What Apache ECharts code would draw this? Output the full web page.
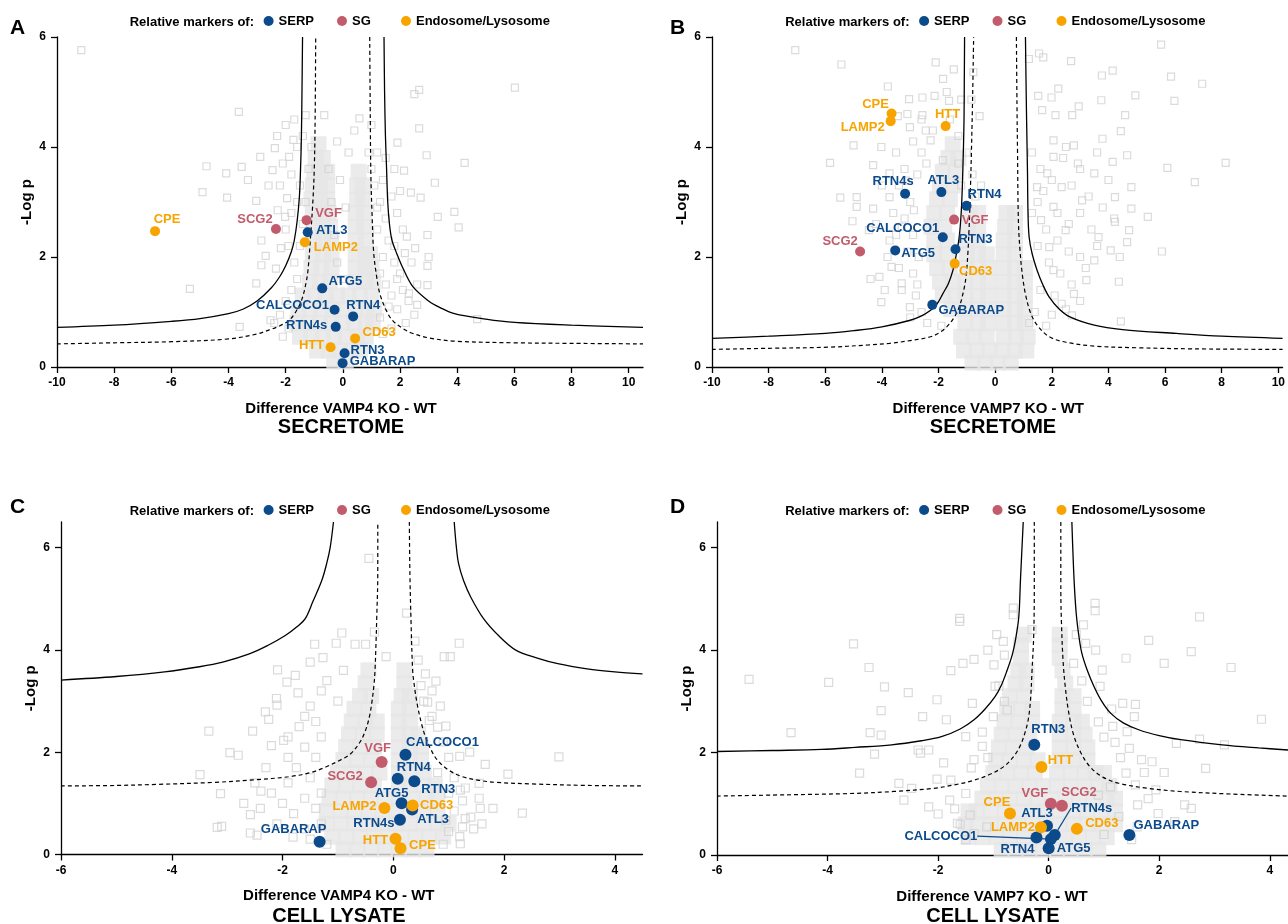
<!DOCTYPE html>
<html><head><meta charset="utf-8">
<script src="https://cdn.jsdelivr.net/npm/echarts@6.0.0/dist/echarts.min.js"></script>
<style>html,body{margin:0;padding:0;background:#fff}#c{width:1288px;height:924px}</style>
</head><body><div id="c"></div>
<script>
// ---------------- DATA ----------------
const groups = ['SERP', 'SG', 'Endosome/Lysosome'];
const xTicksAB = [-10, -8, -6, -4, -2, 0, 2, 4, 6, 8, 10];
const xTicksCD = [-6, -4, -2, 0, 2, 4];
const yTicks = [0, 2, 4, 6];

// markers: [name, group, difference, -log p]
const markersA = [
  ['CPE','Endosome/Lysosome',-6.57,2.47],['SCG2','SG',-2.34,2.51],['VGF','SG',-1.27,2.67],
  ['ATL3','SERP',-1.23,2.45],['LAMP2','Endosome/Lysosome',-1.33,2.27],['ATG5','SERP',-0.72,1.43],
  ['CALCOCO1','SERP',-0.29,1.04],['RTN4','SERP',0.36,0.92],['RTN4s','SERP',-0.25,0.73],
  ['CD63','Endosome/Lysosome',0.43,0.52],['HTT','Endosome/Lysosome',-0.43,0.36],
  ['RTN3','SERP',0.06,0.25],['GABARAP','SERP',-0.01,0.07]];
const markersB = [
  ['CPE','Endosome/Lysosome',-3.66,4.61],['LAMP2','Endosome/Lysosome',-3.69,4.47],['HTT','Endosome/Lysosome',-1.75,4.38],
  ['RTN4s','SERP',-3.18,3.15],['ATL3','SERP',-1.90,3.18],['RTN4','SERP',-1.01,2.93],['VGF','SG',-1.45,2.68],
  ['CALCOCO1','SERP',-1.85,2.36],['RTN3','SERP',-1.40,2.14],['ATG5','SERP',-3.53,2.12],['SCG2','SG',-4.77,2.10],
  ['CD63','Endosome/Lysosome',-1.43,1.88],['GABARAP','SERP',-2.22,1.13]];
const markersC = [
  ['VGF','SG',-0.21,1.81],['CALCOCO1','SERP',0.22,1.95],['RTN4','SERP',0.08,1.48],['RTN3','SERP',0.38,1.43],
  ['SCG2','SG',-0.40,1.41],['ATG5','SERP',0.15,1.00],['ATL3','SERP',0.34,0.88],['CD63','Endosome/Lysosome',0.35,0.96],
  ['LAMP2','Endosome/Lysosome',-0.16,0.91],['RTN4s','SERP',0.12,0.68],['GABARAP','SERP',-1.33,0.25],
  ['HTT','Endosome/Lysosome',0.04,0.31],['CPE','Endosome/Lysosome',0.13,0.12]];
const markersD = [
  ['RTN3','SERP',-0.26,2.15],['HTT','Endosome/Lysosome',-0.13,1.72],['VGF','SG',0.04,1.00],['SCG2','SG',0.24,0.96],
  ['CPE','Endosome/Lysosome',-0.70,0.81],['ATL3','SERP',-0.03,0.57],['LAMP2','Endosome/Lysosome',-0.14,0.54],
  ['CD63','Endosome/Lysosome',0.51,0.51],['GABARAP','SERP',1.46,0.39],['RTN4s','SERP',0.11,0.39],
  ['CALCOCO1','SERP',0.04,0.31],['RTN4','SERP',-0.22,0.34],['ATG5','SERP',0.00,0.13]];

// significance curves
const solidA_L = [[-10,0.72],[-8,0.76],[-6,0.83],[-5,0.88],[-4,0.97],[-3.5,1.05],[-3,1.2],[-2.5,1.44],[-2.2,1.65],[-2,1.84],[-1.8,2.1],[-1.7,2.3],[-1.6,2.65],[-1.52,3.1],[-1.48,3.6],[-1.45,4.2],[-1.43,5],[-1.41,6]];
const solidA_R = [[1.44,6],[1.46,5],[1.49,4.2],[1.53,3.6],[1.57,3.0],[1.63,2.6],[1.72,2.3],[1.88,2.07],[2.1,1.8],[2.45,1.46],[3.0,1.2],[3.4,1.08],[3.9,0.97],[5,0.87],[6,0.81],[8,0.76],[10.5,0.72]];
const dashA_L = [[-10,0.42],[-8,0.44],[-6,0.46],[-4,0.51],[-3,0.6],[-2.6,0.67],[-2.2,0.75],[-1.88,0.85],[-1.65,1.0],[-1.44,1.22],[-1.3,1.5],[-1.22,1.76],[-1.13,2.37],[-1.05,3.0],[-1.0,3.6],[-0.97,4.5],[-0.95,6]];
const dashA_R = [[0.94,6],[0.96,4.5],[0.98,3.5],[1.02,2.8],[1.08,2.07],[1.18,1.65],[1.29,1.34],[1.5,1.05],[1.73,0.85],[2.1,0.7],[2.45,0.61],[3,0.53],[3.9,0.47],[6,0.44],[8,0.43],[10.5,0.42]];
const solidB_L = [[-10,0.52],[-8,0.56],[-6,0.61],[-5,0.66],[-4,0.73],[-3,0.85],[-2.6,0.93],[-2.28,1.03],[-2.05,1.15],[-1.85,1.33],[-1.65,1.52],[-1.49,1.76],[-1.37,2.05],[-1.27,2.36],[-1.2,2.8],[-1.16,3.27],[-1.12,4],[-1.1,4.5],[-1.09,5.2],[-1.08,6]];
const solidB_R = [[1.07,6],[1.09,5.2],[1.11,4.5],[1.14,3.6],[1.16,2.8],[1.2,2.36],[1.31,2.05],[1.48,1.76],[1.68,1.5],[1.91,1.27],[2.25,1.06],[2.64,0.91],[3.5,0.76],[4.5,0.68],[6.4,0.61],[8,0.56],[10.15,0.52]];
const dashB_L = [[-10,0.32],[-8,0.34],[-5.9,0.36],[-4.5,0.4],[-3.73,0.43],[-3,0.48],[-2.28,0.55],[-1.95,0.63],[-1.71,0.73],[-1.45,0.9],[-1.27,1.09],[-1.13,1.35],[-1.03,1.64],[-0.96,2.1],[-0.91,2.67],[-0.87,3.3],[-0.84,3.88],[-0.8,4.8],[-0.76,6]];
const dashB_R = [[0.75,6],[0.77,4.8],[0.79,3.9],[0.82,2.67],[0.88,2.1],[0.97,1.64],[1.08,1.3],[1.26,0.97],[1.5,0.75],[1.91,0.55],[2.5,0.45],[3.5,0.38],[5,0.35],[7,0.33],[10.15,0.32]];
const solidC_L = [[-6,3.41],[-5,3.48],[-4.13,3.57],[-3.5,3.67],[-3.08,3.76],[-2.6,3.92],[-2.26,4.09],[-1.95,4.28],[-1.74,4.45],[-1.59,4.61],[-1.45,4.95],[-1.29,5.36],[-1.2,5.7],[-1.14,6.0],[-1.08,6.5]];
const solidC_R = [[1.10,6.5],[1.14,6.0],[1.18,5.68],[1.27,5.35],[1.40,5.03],[1.63,4.61],[1.9,4.28],[2.22,3.99],[2.6,3.84],[2.97,3.73],[3.5,3.63],[4.0,3.57],[4.5,3.53]];
const dashC_L = [[-6,1.34],[-5,1.35],[-4.28,1.37],[-3.23,1.41],[-2.5,1.46],[-1.89,1.52],[-1.5,1.6],[-1.22,1.71],[-0.95,1.85],[-0.77,1.97],[-0.6,2.2],[-0.5,2.43],[-0.43,2.7],[-0.39,2.95],[-0.35,3.3],[-0.33,3.6],[-0.31,4.2],[-0.3,4.58],[-0.28,5.5],[-0.28,6.5]];
const dashC_R = [[0.29,6.5],[0.3,5.5],[0.32,4.58],[0.35,3.6],[0.38,3.3],[0.43,2.95],[0.5,2.6],[0.58,2.3],[0.68,2.05],[0.8,1.84],[1.0,1.65],[1.25,1.52],[1.55,1.45],[1.85,1.41],[2.5,1.38],[3.5,1.35],[4.5,1.34]];
const solidD_L = [[-6,2.02],[-5,2.04],[-4.11,2.06],[-3.5,2.1],[-2.84,2.15],[-2.3,2.23],[-1.94,2.31],[-1.6,2.46],[-1.35,2.64],[-1.15,2.85],[-0.97,3.09],[-0.85,3.33],[-0.75,3.61],[-0.66,3.9],[-0.6,4.2],[-0.54,4.65],[-0.51,5.37],[-0.46,6.5]];
const solidD_R = [[0.42,6.5],[0.46,5.37],[0.5,4.7],[0.55,4.25],[0.6,3.94],[0.7,3.6],[0.82,3.29],[0.95,3.02],[1.12,2.77],[1.35,2.58],[1.64,2.44],[2.0,2.33],[2.39,2.25],[3.14,2.15],[3.8,2.09],[4.33,2.05]];
const dashD_L = [[-6,1.15],[-5,1.17],[-3.59,1.2],[-2.8,1.24],[-2.09,1.3],[-1.7,1.37],[-1.35,1.46],[-1.05,1.58],[-0.82,1.72],[-0.65,1.9],[-0.52,2.12],[-0.43,2.38],[-0.37,2.64],[-0.33,3.0],[-0.3,3.61],[-0.27,4.3],[-0.26,5.2],[-0.26,6.5]];
const dashD_R = [[0.22,6.5],[0.22,5.2],[0.23,4.59],[0.26,3.8],[0.3,3.29],[0.36,2.8],[0.45,2.35],[0.58,2.0],[0.75,1.72],[0.98,1.52],[1.27,1.40],[1.8,1.3],[2.39,1.24],[3.3,1.19],[4.33,1.15]];

// background proteins (open squares) and the dense core of overlapping proteins
const bgA = [[-9.15,5.76],[-3.64,4.64],[2.5,4.96],[2.67,5.04],[6.02,5.08],[-1.3,4.58],[-0.65,4.58],[0.58,4.52],
[2.67,4.34],[1.91,4.08],[2.93,3.85],[4.26,3.71],[3.22,3.35],[3.9,2.82],[4.05,2.54],[3.32,2.73],[2.72,3.08],[2.38,3.17],[2.14,3.57],[2.96,2.4],[2.96,1.84],[2.96,1.49],[3.0,2.0],[2.53,2.16],[2.17,2.07],[2.24,2.37],[4.7,0.87],[2.6,1.13],[2.31,1.34],
[-5.35,1.42],[-3.61,0.73],[-4.91,3.18],[-4.05,3.08],[-4.08,3.52],[-4.77,3.65],[-3.54,3.64],[-3.32,3.4],[-2.89,3.82],[-3.03,3.02],[-2.85,2.3],[-2.7,2.02],[-2.85,1.85],[-2.34,1.79],[-2.38,3.98],[-2.1,3.7],[-2.46,3.58],[-1.88,3.82],[-1.73,4.13],[-2.53,0.85],[-3.03,1.52],[-2.17,2.16],[-2.28,2.85],[-2.02,2.73],[-1.95,3.07],
[1.1,3.3],[1.3,3.0],[1.5,2.7],[1.2,2.5],[1.6,2.3],[1.4,2.0],[1.8,1.9],[1.3,1.7],[1.9,1.6],[2.1,1.4],[1.7,1.3],[2.3,1.2],[1.9,1.05],[1.2,2.9],[1.0,3.6],[1.4,3.4],[1.7,3.1],[0.9,3.9],[0.4,4.3],[1.0,4.4],
[-1.6,1.6],[-1.8,1.4],[-2.0,1.2],[-1.7,1.9],[-1.5,2.2],[-1.4,2.6],[-1.3,3.0],[-1.5,3.3],[-1.2,3.6],[-1.4,4.2],[-1.1,4.0],[-0.5,3.6],[-0.4,3.0],[-0.3,2.4],[-0.2,1.9],[0.0,1.6],[-2.2,0.95],[2.5,0.95],[-2.4,0.8],[2.2,0.8],
[-2.3,4.2],[-2.0,4.4],[-1.7,4.5],[-2.6,3.3],[-2.2,3.3],[-1.8,3.5],[-1.6,4.0],[-2.0,2.5],[-1.8,2.8],[-1.6,3.0],[-1.9,2.2],[1.2,3.9],[1.5,3.8],[1.8,3.6],[2.0,3.2],[1.9,2.8],[2.1,2.5],[1.8,2.2],[2.4,1.9],[2.0,1.7],[2.6,1.5],[1.5,1.5],[1.6,1.1],[1.3,0.9],[-1.9,0.7],[-2.1,0.55],[1.4,0.6],[1.7,0.7],[-0.2,4.1],[0.2,3.9],[-0.1,3.4],[0.1,2.9]];
const coreA = [[-0.3,0.1],[0.1,0.1],
[-0.9,0.3],[-0.5,0.3],[-0.1,0.3],[0.3,0.3],[0.6,0.3],
[-1.5,0.55],[-1.1,0.55],[-0.7,0.55],[-0.3,0.55],[0.1,0.55],[0.5,0.55],[0.8,0.55],
[-1.6,0.8],[-1.2,0.8],[-0.8,0.8],[-0.4,0.8],[0,0.8],[0.4,0.8],[0.8,0.8],[1.05,0.8],
[-1.55,1.05],[-1.15,1.05],[-0.75,1.05],[-0.35,1.05],[0.05,1.05],[0.45,1.05],[0.85,1.05],[1.1,1.05],
[-1.4,1.3],[-1.0,1.3],[-0.6,1.3],[-0.2,1.3],[0.2,1.3],[0.6,1.3],[1.0,1.3],
[-1.15,1.55],[-0.8,1.55],[-0.45,1.55],[0.45,1.55],[0.8,1.55],[1.05,1.55],
[-1.1,1.8],[-0.75,1.8],[-0.4,1.8],[0.45,1.8],[0.8,1.8],[1.0,1.8],
[-1.05,2.05],[-0.7,2.05],[-0.4,2.05],[0.45,2.05],[0.8,2.05],[0.95,2.05],
[-1.0,2.3],[-0.7,2.3],[-0.4,2.3],[0.45,2.3],[0.8,2.3],
[-1.0,2.55],[-0.7,2.55],[-0.45,2.55],[0.45,2.55],[0.75,2.55],
[-1.05,2.8],[-0.75,2.8],[-0.5,2.8],[0.45,2.8],[0.75,2.8],
[-1.1,3.05],[-0.8,3.05],[-0.55,3.05],[0.5,3.05],[0.7,3.05],
[-1.05,3.3],[-0.8,3.3],[-0.55,3.3],[0.5,3.3],[0.7,3.3],
[-1.0,3.55],[-0.75,3.55],[-0.55,3.55],[0.55,3.55],
[-0.95,3.8],[-0.7,3.8],[-0.85,4.05]];
const bgB = [[-7.06,5.76],[-5.43,5.5],[-2.1,5.54],[-1.46,5.41],[-0.77,5.36],[-1.84,5.24],[-3.79,5.1],[-1.71,5.0],[-2.14,4.93],[-2.57,4.9],[-3.04,4.87],[-1.63,4.84],[-1.2,4.86],[-0.84,4.86],
[1.55,5.7],[1.7,5.63],[1.19,5.6],[2.68,5.56],[4.15,5.39],[3.77,5.3],[5.86,5.86],[6.21,5.28],[7.31,5.15],[2.23,5.06],[1.52,4.93],[1.99,4.9],[3.75,4.85],[4.95,4.94],[6.33,4.84],[2.95,4.74],[1.66,4.67],[2.72,4.58],[4.59,4.58],[-3.44,4.56],[-2.57,4.58],[-0.55,4.56],[2.13,4.58],
[-5.83,3.71],[-5.47,3.08],[-4.89,3.09],[-5.04,2.65],[-4.31,2.88],[-5.0,4.03],[-4.31,3.67],[-4.02,4.0],[-3.01,4.36],[-3.73,3.09],[-3.66,1.82],[-4.09,1.64],[-4.02,1.18],[-3.01,1.09],[-3.3,1.52],[-3.3,2.55],[-2.87,2.85],[-3.73,2.3],[-2.43,3.7],[-2.28,4.12],
[2.06,4.12],[2.78,4.03],[3.79,4.15],[4.44,4.29],[4.66,3.85],[4.15,3.73],[8.14,3.71],[7.05,3.36],[6.08,3.62],[4.81,3.27],[4.23,3.09],[4.81,2.88],[4.23,2.64],[4.73,2.49],[4.66,2.27],[3.65,2.36],[4.08,2.12],[5.89,2.1],[3.5,1.94],[3.22,1.58],[4.37,1.55],[2.78,1.33],[4.44,0.83],[2.71,0.94],[2.35,1.15],[2.06,1.76],[1.91,2.18],[2.49,2.49],[3.07,3.03],[2.35,3.27],[1.84,3.52],[2.92,3.7],[2.06,3.82],[1.48,3.27],[1.62,2.67],[2.06,2.91],[3.5,3.52],[5.39,2.73],
[-1.85,3.76],[-3.15,3.39],[-3.73,3.52],[-4.46,2.49],[-4.89,2.91],
[1.3,3.9],[1.6,3.6],[2.0,3.4],[2.4,3.8],[2.7,3.3],[3.0,3.6],[3.3,3.1],[2.2,2.8],[2.6,2.6],[3.0,2.8],[3.4,2.5],[1.8,2.5],[2.2,2.3],[2.6,2.1],[3.0,2.0],[1.5,2.2],[1.9,1.9],[2.3,1.7],[2.7,1.5],[3.2,1.8],[3.6,2.2],[3.8,2.9],[4.0,3.4],[1.6,1.4],[2.1,1.3],[2.5,1.05],[3.0,1.2],[1.4,1.0],[1.3,2.8],[1.5,3.0],[1.7,3.2],[2.5,4.0],[3.6,3.9],[4.2,2.7],[4.4,2.0],[1.2,0.8],[1.8,0.75],[2.0,0.95],
[-3.5,3.9],[-3.2,3.6],[-2.9,4.1],[-3.4,3.3],[-3.0,3.0],[-3.6,2.8],[-3.2,2.7],[-2.9,2.4],[-3.5,2.4],[-3.1,2.1],[-3.8,2.0],[-3.4,1.8],[-2.9,1.7],[-3.3,1.4],[-2.8,1.3],[-2.6,1.0],[-3.0,0.9],[-2.4,0.8],[-1.9,0.75],[-2.2,4.3],[-1.6,4.5],[-1.3,4.2],[-2.6,4.5],[-3.1,4.6],[-1.0,3.9],[-0.8,3.5],[-0.7,3.1],[-1.3,3.7],[-1.2,3.3],[-0.5,3.3],[-4.0,3.3],[-4.2,2.6],[-3.9,1.4],[-4.4,1.6],
[-2.75,3.5],[-2.7,2.0],[-2.75,1.5],[-2.6,3.9],[-2.45,4.3]];
const coreB = [[-0.8,0.08],[-0.35,0.08],[0.1,0.08],[0.55,0.08],
[-1.1,0.3],[-0.65,0.3],[-0.2,0.3],[0.25,0.3],[0.7,0.3],[1.1,0.3],
[-1.2,0.55],[-0.75,0.55],[-0.3,0.55],[0.3,0.55],[0.75,0.55],[1.15,0.55],
[-1.05,0.8],[-0.6,0.8],[-0.25,0.8],[-1.05,1.05],[-0.6,1.05],[-0.25,1.05],[-1.05,1.3],[-0.6,1.3],[-0.25,1.3],[-1.05,1.55],[-0.6,1.55],[-0.25,1.55],[-1.0,1.8],[-0.6,1.8],[-0.25,1.8],[-1.0,2.05],[-0.6,2.05],[-0.3,2.05],[-1.0,2.3],[-0.6,2.3],[-0.95,2.55],[-0.6,2.55],[-0.9,2.8],[-0.6,2.8],
[-1.55,1.05],[-1.85,1.3],[-1.4,1.3],[-1.95,1.55],[-1.5,1.55],[-2.05,1.8],[-1.6,1.8],[-2.15,2.05],[-1.7,2.05],[-2.15,2.3],[-1.7,2.3],[-2.25,2.55],[-1.8,2.55],[-2.15,2.8],[-1.7,2.8],[-2.05,3.05],[-1.6,3.05],[-1.95,3.3],[-1.5,3.3],[-1.85,3.55],[-1.4,3.55],[-1.65,3.8],[-1.3,3.8],[-1.5,4.05],
[0.3,0.8],[0.7,0.8],[1.05,0.8],[0.3,1.05],[0.7,1.05],[1.05,1.05],[0.3,1.3],[0.7,1.3],[1.05,1.3],[0.3,1.55],[0.7,1.55],[1.05,1.55],[0.3,1.8],[0.7,1.8],[1.05,1.8],[0.3,2.05],[0.7,2.05],[0.3,2.3],[0.7,2.3],[0.35,2.55],[0.7,2.55],[0.4,2.8],[0.7,2.8]];
const bgC = [[-0.93,4.33],[-0.34,4.35],[0.39,4.17],[1.19,4.13],[0.92,3.87],[1.03,3.87],[-1.42,4.11],[-1.03,4.13],[-0.69,4.11],[-0.5,4.11],[-0.13,3.87],[-1.5,3.76],[-1.27,3.85],[-2.09,3.61],[-1.77,3.5],[-1.92,3.37],[-1.72,3.16],[-2.11,3.05],[-2.1,2.92],[-2.31,2.79],[-2.25,2.64],[-2.54,2.41],[-3.33,2.41],[-2.2,2.13],[-1.98,2.23],[-2.95,1.99],[-2.8,1.94],[-3.49,1.56],[-3.12,1.19],[-2.39,1.24],[-2.58,0.78],[-3.18,0.53],[-3.1,0.55],[-2.58,0.42],[-2.46,0.38],[-1.81,0.34],
[0.58,3.53],[0.77,3.39],[0.62,2.98],[0.65,2.62],[0.8,2.49],[0.95,2.51],[1.2,1.92],[1.66,1.76],[1.38,2.0],[2.07,1.57],[2.99,1.91],[1.55,1.39],[1.21,1.26],[1.57,0.9],[1.4,0.73],[2.33,0.81],[1.21,0.21],[1.25,0.54],[0.95,0.67],
[-0.44,5.79],[0.24,4.72],
[-1.3,3.2],[-1.5,2.9],[-1.4,2.6],[-1.7,2.5],[-1.3,2.3],[-1.6,2.1],[-1.9,1.9],[-1.4,1.9],[-1.75,1.7],[-1.5,1.5],[-1.9,1.4],[-1.3,1.2],[-1.6,1.1],[-2.0,1.0],[-1.4,0.9],[-1.8,0.8],[-1.3,0.6],[-1.6,0.5],[-2.1,0.6],[-1.5,0.3],[-1.2,0.2],[-1.9,2.3],[-1.6,2.7],[-1.2,3.4],[-0.9,3.6],[-1.0,3.0],[-2.3,1.7],[-2.5,1.4],[-2.2,1.2],[-2.7,1.0],[-2.4,0.9],
[0.9,2.2],[1.0,1.9],[0.8,1.6],[1.1,1.5],[1.3,1.3],[1.0,1.2],[1.25,1.05],[1.1,0.85],[1.3,0.7],[1.0,0.45],[1.2,0.35],[0.9,0.2],[1.45,0.5],[1.55,1.1],[0.7,2.7],[0.55,3.0],[0.5,3.3],[0.45,3.8],[0.7,3.2],[0.85,2.9],[1.6,0.6],[1.8,0.9]];
const coreC = [[-0.9,0.1],[-0.65,0.1],[-0.4,0.1],[-0.15,0.1],[0.1,0.1],[0.35,0.1],[0.6,0.1],
[-1.1,0.35],[-0.85,0.35],[-0.6,0.35],[-0.35,0.35],[-0.1,0.35],[0.15,0.35],[0.4,0.35],[0.65,0.35],[0.9,0.35],
[-1.2,0.6],[-0.95,0.6],[-0.7,0.6],[-0.45,0.6],[-0.2,0.6],[0.05,0.6],[0.3,0.6],[0.55,0.6],[0.8,0.6],[1.0,0.6],
[-1.2,0.85],[-0.95,0.85],[-0.7,0.85],[-0.45,0.85],[-0.2,0.85],[0.05,0.85],[0.3,0.85],[0.55,0.85],[0.8,0.85],
[-1.15,1.1],[-0.9,1.1],[-0.65,1.1],[-0.4,1.1],[-0.15,1.1],[0.1,1.1],[0.35,1.1],[0.6,1.1],[0.8,1.1],
[-1.1,1.35],[-0.85,1.35],[-0.6,1.35],[-0.35,1.35],[0.1,1.35],[0.3,1.35],[0.55,1.35],[0.75,1.35],
[-1.0,1.6],[-0.75,1.6],[-0.5,1.6],[-0.25,1.6],[0.1,1.6],[0.3,1.6],[0.55,1.6],
[-0.9,1.85],[-0.65,1.85],[-0.4,1.85],[0.1,1.85],[0.3,1.85],[0.5,1.85],
[-0.85,2.1],[-0.6,2.1],[-0.35,2.1],[0.1,2.1],[0.3,2.1],[0.5,2.1],
[-0.8,2.35],[-0.55,2.35],[-0.3,2.35],[0.1,2.35],[0.3,2.35],[0.45,2.35],
[-0.75,2.6],[-0.5,2.6],[-0.3,2.6],[0.1,2.6],[0.3,2.6],
[-0.7,2.85],[-0.45,2.85],[0.1,2.85],[0.3,2.85],
[-0.6,3.1],[-0.4,3.1],[0.15,3.1],[0.3,3.1],
[-0.5,3.35],[0.2,3.35],[-0.45,3.6],[0.2,3.6]];
const bgD = [[-5.42,3.43],[-3.98,3.37],[-3.53,4.12],[-3.25,3.66],[-3.03,2.82],[-2.97,3.28],[-4.66,2.39],[-3.23,2.39],[-3.03,2.34],[-3.15,1.97],[-3.42,1.6],[-2.71,1.4],[-2.48,1.3],[-2.02,1.48],[-1.77,1.46],[-2.36,2.05],[-2.17,2.05],[-1.85,2.64],[-2.02,3.03],[-2.28,2.7],[-2.54,3.17],[-1.77,3.6],[-1.55,3.74],[-1.35,3.82],[-0.99,3.71],[-1.61,4.56],[-0.94,4.3],[-0.82,4.17],[0.63,4.49],[0.67,4.13],[1.81,4.19],[1.4,3.84],[2.09,3.74],[2.58,3.97],[3.3,3.66],[3.85,2.65],[1.57,2.94],[1.34,2.96],[1.14,2.85],[1.16,2.51],[1.42,2.41],[1.55,2.7],[2.73,2.26],[3.18,2.15],[2.84,1.69],[1.73,1.61],[2.09,1.61],[1.87,1.82],[2.31,2.18],[2.46,0.98],[2.58,0.91],[2.28,0.65],[1.98,0.81],[1.61,0.98],[1.27,0.75],[1.12,1.33],[0.9,1.17],[1.57,1.37],[1.94,1.27],[1.68,1.86],[1.46,2.08],[-2.32,1.99],[-2.62,1.07],[-2.17,0.94],[-1.79,1.07],[-1.65,0.62],[-1.42,0.78],[-1.35,0.42],[-1.12,0.55],[-1.35,1.86],[-1.2,2.12],[-1.5,2.31],[-1.38,2.96],[-0.97,3.29],[-0.75,2.83],[0.93,3.29],[0.97,3.61],[0.45,3.74],[-0.64,4.82],[-0.64,4.69],[0.84,4.91],[0.84,4.77],[-1.61,4.62],[2.73,4.65],
[-1.5,1.2],[-1.7,0.9],[1.4,1.6],[1.3,1.9],[1.0,2.3],[1.2,2.2],[-1.2,2.4],[-1.1,1.9],[-1.4,1.7],[0.9,2.6],[-1.0,2.7],[0.7,3.0],[-0.9,3.3],[0.6,3.4],[-0.8,3.0],[1.0,0.4],[1.5,0.3],[-1.5,0.3],[-1.6,0.6],[1.6,0.55],[1.8,1.1],[-2.0,0.8],
[-0.8,3.9],[-0.3,4.4],[0.5,4.3],[-1.1,4.0],[0.85,4.0],[-1.9,1.8]];
const coreD = [[-0.85,0.1],[-0.6,0.1],[-0.35,0.1],[-0.1,0.1],[0.15,0.1],[0.4,0.1],[0.65,0.1],[0.9,0.1],
[-1.45,0.35],[-1.2,0.35],[-0.95,0.35],[-0.7,0.35],[-0.45,0.35],[-0.2,0.35],[0.05,0.35],[0.3,0.35],[0.55,0.35],[0.8,0.35],[1.05,0.35],
[-1.5,0.6],[-1.3,0.6],[-1.05,0.6],[-0.8,0.6],[-0.55,0.6],[-0.3,0.6],[-0.05,0.6],[0.2,0.6],[0.45,0.6],[0.7,0.6],[0.95,0.6],[1.2,0.6],
[-1.45,0.85],[-1.3,0.85],[-1.05,0.85],[-0.8,0.85],[-0.55,0.85],[-0.3,0.85],[-0.05,0.85],[0.2,0.85],[0.45,0.85],[0.7,0.85],[0.95,0.85],[1.2,0.85],
[-1.2,1.1],[-0.95,1.1],[-0.7,1.1],[-0.45,1.1],[-0.2,1.1],[0.05,1.1],[0.3,1.1],[0.55,1.1],[0.8,1.1],[1.05,1.1],[1.2,1.1],
[-1.1,1.35],[-0.85,1.35],[-0.6,1.35],[-0.35,1.35],[-0.1,1.35],[0.15,1.35],[0.4,1.35],[0.65,1.35],[0.9,1.35],[1.1,1.35],
[-1.0,1.6],[-0.75,1.6],[-0.5,1.6],[-0.25,1.6],[0.15,1.6],[0.4,1.6],[0.65,1.6],[0.85,1.6],[1.0,1.6],
[-0.95,1.85],[-0.7,1.85],[-0.45,1.85],[-0.2,1.85],[0.2,1.85],[0.45,1.85],[0.7,1.85],
[-0.9,2.1],[-0.65,2.1],[-0.4,2.1],[0.2,2.1],[0.45,2.1],[0.7,2.1],
[-0.85,2.35],[-0.6,2.35],[-0.35,2.35],[0.2,2.35],[0.45,2.35],[0.65,2.35],
[-0.8,2.6],[-0.55,2.6],[-0.3,2.6],[0.2,2.6],[0.45,2.6],[0.6,2.6],
[-0.75,2.85],[-0.5,2.85],[-0.3,2.85],[0.25,2.85],[0.45,2.85],
[-0.7,3.1],[-0.45,3.1],[0.25,3.1],[0.45,3.1],
[-0.6,3.35],[-0.4,3.35],[0.3,3.35],[-0.55,3.6],[-0.4,3.6],[0.25,3.6],
[-0.5,3.85],[0.2,3.85],[-0.5,4.1],[0.2,4.1],[-0.45,4.3],[0.2,4.3]];

// ---------------- STYLE / LAYOUT ----------------
const FONT = "'Liberation Sans', Arial, Helvetica, sans-serif";
const COLORS = {'SERP':'#0b4a8b','SG':'#c25b6c','Endosome/Lysosome':'#f7a400'};
// label centre offsets (px) relative to the marker
const labelOffA = {CPE:[12,-12],SCG2:[-21,-10],VGF:[22,-7],ATL3:[24,-2],LAMP2:[31,5],ATG5:[23,-7],CALCOCO1:[-42,-4],RTN4:[10,-11],RTN4s:[-29,-1],CD63:[24,-6],HTT:[-19,-2],RTN3:[23,-3],GABARAP:[40,-2]};
const labelOffB = {CPE:[-16,-9],LAMP2:[-28,6],HTT:[2,-12],RTN4s:[-12,-12],ATL3:[2,-12],RTN4:[18,-11],VGF:[21,1],CALCOCO1:[-40,-9],RTN3:[20,-10],ATG5:[23,3],SCG2:[-20,-10],CD63:[21,8],GABARAP:[39,6]};
const labelOffC = {VGF:[-4,-13],CALCOCO1:[37,-12],RTN4:[16,-11],RTN3:[24,8],SCG2:[-26,-6],ATG5:[-10,-10],ATL3:[21,10],CD63:[24,0],LAMP2:[-30,-2],RTN4s:[-26,4],GABARAP:[-26,-12],HTT:[-20,2],CPE:[22,-3]};
const labelOffD = {RTN3:[14,-15],HTT:[19,-6],VGF:[-16,-10],SCG2:[17,-13],CPE:[-13,-11],ATL3:[-10,-12],LAMP2:[-28,0],CD63:[25,-5],GABARAP:[37,-10],RTN4s:[37,-27],CALCOCO1:[-110,-3],RTN4:[-19,12],ATG5:[25,0]};
const leadersD = ['RTN4s','CALCOCO1'];

const panels = [
  {letter:'A', grid:{left:57,top:37,width:586,height:330}, xr:[-10,10.5], yr:[0,6], xt:xTicksAB,
   xname:'Difference VAMP4 KO - WT', pad:18, gap:34, title:'SECRETOME', tx:341, ty:427, ox:0, oy:0,
   bg:bgA, core:coreA, markers:markersA, offs:labelOffA, leaders:[], curves:[solidA_L,solidA_R,dashA_L,dashA_R], bgS:7, mS:10},
  {letter:'B', grid:{left:712,top:37,width:576,height:330}, xr:[-10,10.15], yr:[0,6], xt:xTicksAB,
   xname:'Difference VAMP7 KO - WT', pad:18, gap:34, title:'SECRETOME', tx:993, ty:427, ox:655.5, oy:0,
   bg:bgB, core:coreB, markers:markersB, offs:labelOffB, leaders:[], curves:[solidB_L,solidB_R,dashB_L,dashB_R], bgS:7, mS:10},
  {letter:'C', grid:{left:61,top:522,width:581.5,height:332.5}, xr:[-6,4.5], yr:[0,6.5], xt:xTicksCD,
   xname:'Difference VAMP4 KO - WT', pad:26, gap:34, title:'CELL LYSATE', tx:339, ty:916, ox:0, oy:489,
   bg:bgC, core:coreC, markers:markersC, offs:labelOffC, leaders:[], curves:[solidC_L,solidC_R,dashC_L,dashC_R], bgS:8, mS:12},
  {letter:'D', grid:{left:717,top:522,width:571,height:333}, xr:[-6,4.33], yr:[0,6.5], xt:xTicksCD,
   xname:'Difference VAMP7 KO - WT', pad:21, gap:34, title:'CELL LYSATE', tx:993, ty:916, ox:655.5, oy:489,
   bg:bgD, core:coreD, markers:markersD, offs:labelOffD, leaders:leadersD, curves:[solidD_L,solidD_R,dashD_L,dashD_R], bgS:8, mS:12}
];

const grids = [], xAxes = [], yAxes = [], series = [], legends = [], graphics = [];
const axisCommon = {
  axisLine:{show:true, onZero:false, lineStyle:{color:'#000', width:1.3}},
  axisTick:{show:true, inside:false, length:6, lineStyle:{color:'#000', width:1.3}},
  splitLine:{show:false}
};
panels.forEach((p, i) => {
  grids.push(Object.assign({containLabel:false}, p.grid));
  xAxes.push(Object.assign({}, axisCommon, {
    type:'value', gridIndex:i, min:p.xr[0], max:p.xr[1], interval:2,
    axisTick:Object.assign({}, axisCommon.axisTick, {customValues:p.xt}),
    axisLabel:{customValues:p.xt, margin:10, color:'#000', fontWeight:'bold', fontSize:12, fontFamily:FONT},
    name:p.xname, nameLocation:'middle', nameGap:p.gap,
    nameTextStyle:{color:'#000', fontWeight:'bold', fontSize:15, fontFamily:FONT, padding:[0,p.pad,0,0]}
  }));
  yAxes.push(Object.assign({}, axisCommon, {
    type:'value', gridIndex:i, min:p.yr[0], max:p.yr[1], interval:2,
    axisTick:Object.assign({}, axisCommon.axisTick, {customValues:yTicks}),
    axisLabel:{customValues:yTicks, margin:11, color:'#000', fontWeight:'bold', fontSize:12, fontFamily:FONT},
    name:'-Log p', nameLocation:'middle', nameGap:23,
    nameTextStyle:{color:'#000', fontWeight:'bold', fontSize:15, fontFamily:FONT}
  }));
  // dense core of overlapping proteins
  series.push({type:'scatter', name:'core'+p.letter, xAxisIndex:i, yAxisIndex:i, data:p.core, symbol:'rect', symbolSize:16,
    itemStyle:{color:'#e6e6e6', borderWidth:0}, silent:true, z:1});
  // other proteins
  series.push({type:'scatter', name:'proteins'+p.letter, xAxisIndex:i, yAxisIndex:i, data:p.bg, symbol:'rect', symbolSize:p.bgS,
    itemStyle:{color:'rgba(255,255,255,0)', borderColor:'#d2d2d2', borderWidth:1.2}, silent:true, z:1});
  // significance curves
  p.curves.forEach((c, k) => {
    series.push({type:'line', name:(k<2?'FDR curve ':'s0 curve ')+p.letter, xAxisIndex:i, yAxisIndex:i, data:c,
      symbol:'none', smooth:0.35, silent:true, z:3,
      lineStyle:{color:'#000', width:k<2?1.3:1.2, type:k<2?'solid':[4,3]}});
  });
  // markers
  groups.forEach(g => {
    const items = p.markers.filter(m => m[1] === g);
    const names = items.map(m => m[0]);
    const offs = p.offs;
    series.push({type:'scatter', name:g, xAxisIndex:i, yAxisIndex:i, symbol:'circle', symbolSize:p.mS, z:5,
      itemStyle:{color:COLORS[g], opacity:1},
      data:items.map(m => {
        const d = {name:m[0], value:[m[2], m[3]]};
        if (p.leaders.indexOf(m[0]) >= 0) d.labelLine = {show:true, lineStyle:{color:COLORS[g], width:1.2}};
        return d;
      }),
      label:{show:true, position:'inside', formatter:'{b}', color:COLORS[g], fontWeight:'bold', fontSize:13,
        fontFamily:FONT, textBorderWidth:0, textBorderColor:'transparent'},
      labelLine:{show:false, lineStyle:{color:COLORS[g], width:1.2}},
      labelLayout:function(prm){ const o = offs[names[prm.dataIndex]] || [0,0]; return {dx:o[0], dy:o[1]}; },
      emphasis:{disabled:true}
    });
  });
  // legends (one per entry, placed like the original)
  const lx = [263.6, 337, 401];
  groups.forEach((g, k) => {
    legends.push({data:[g], left:p.ox + lx[k], top:p.oy + 14.5, padding:0, itemWidth:10, itemHeight:10, itemGap:0,
      icon:'circle', selectedMode:false,
      textStyle:{color:'#000', fontWeight:'bold', fontSize:13, fontFamily:FONT}});
  });
  graphics.push({type:'text', x:p.ox + 254, y:p.oy + 22, style:{text:'Relative markers of:', fill:'#000',
    font:'bold 13px ' + FONT, align:'right', verticalAlign:'middle', textAlign:'right', textVerticalAlign:'middle'}});
  graphics.push({type:'text', x:(p.ox ? 677.5 : 17.5), y:p.oy + 28 - (p.oy ? 10 : 0), style:{text:p.letter, fill:'#000',
    font:'bold 21px ' + FONT, align:'center', verticalAlign:'middle', textAlign:'center', textVerticalAlign:'middle'}});
  graphics.push({type:'text', x:p.tx, y:p.ty, style:{text:p.title, fill:'#000',
    font:'bold 20px ' + FONT, align:'center', verticalAlign:'middle', textAlign:'center', textVerticalAlign:'middle'}});
});

const chart = echarts.init(document.getElementById('c'), null, {renderer:'canvas', width:1288, height:924});
chart.setOption({
  animation:false,
  backgroundColor:'#fff',
  grid:grids, xAxis:xAxes, yAxis:yAxes, legend:legends, series:series, graphic:graphics
});
</script></body></html>
